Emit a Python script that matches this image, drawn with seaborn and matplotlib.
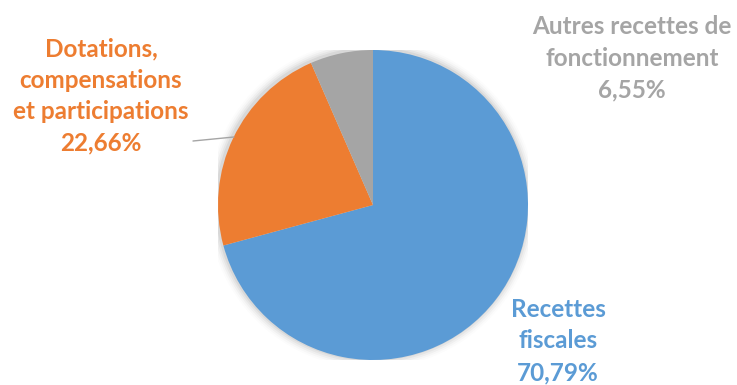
import matplotlib
matplotlib.use("Agg")
import matplotlib.pyplot as plt
import seaborn as sns
from matplotlib.patches import Circle

sns.set_theme(style="white")
plt.rcParams["font.family"] = ["Lato", "DejaVu Sans"]

categories = ["Recettes fiscales", "Dotations, compensations et participations",
              "Autres recettes de fonctionnement"]
shares = [70.79, 22.66, 6.55]
label_lines = ["Recettes\nfiscales", "Dotations,\ncompensations\net participations",
               "Autres recettes de\nfonctionnement"]
colors = ["#5B9BD5", "#ED7D31", "#A5A5A5"]
text_colors = ["#5B9BD5", "#ED7D31", "#A5A5A5"]

W, H = 737, 385
fig = plt.figure(figsize=(W / 100, H / 100), dpi=100)
cx, cy, r = 373, 205, 155
ax = fig.add_axes([(cx - r) / W, (H - cy - r) / H, 2 * r / W, 2 * r / H])

# soft halo behind the pie
for i, a in enumerate([0.05, 0.04, 0.03, 0.02, 0.01]):
    ax.add_patch(Circle((-0.006, 0.006), 1.0 + 0.012 * (i + 1), color="black",
                        alpha=a, lw=0, zorder=0))

wedges, _ = ax.pie(shares, colors=colors, startangle=90, counterclock=False,
                   radius=1.0, wedgeprops=dict(linewidth=0, zorder=1))
ax.set_xlim(-1, 1)
ax.set_ylim(-1, 1)
ax.set_aspect("equal")
ax.axis("off")

def fig_xy(px, py):
    return px / W, 1 - py / H

# label anchors (pixel centers of each text block)
anchors = [(558, 341), (101, 96), (632, 58)]
for txt, share, col, (px, py) in zip(label_lines, shares, text_colors, anchors):
    pct = f"{share:.2f}".replace(".", ",") + "%"
    fig.text(*fig_xy(px, py), f"{txt}\n{pct}", color=col, fontsize=17.5,
             fontweight="bold", ha="center", va="center", linespacing=1.45)

# leader line for the orange slice
x0, y0 = fig_xy(193, 141)
x1, y1 = fig_xy(234, 137)
fig.add_artist(plt.Line2D([x0, x1], [y0, y1], color="#A5A5A5", lw=1.0))

fig.savefig("out.png", dpi=100)
